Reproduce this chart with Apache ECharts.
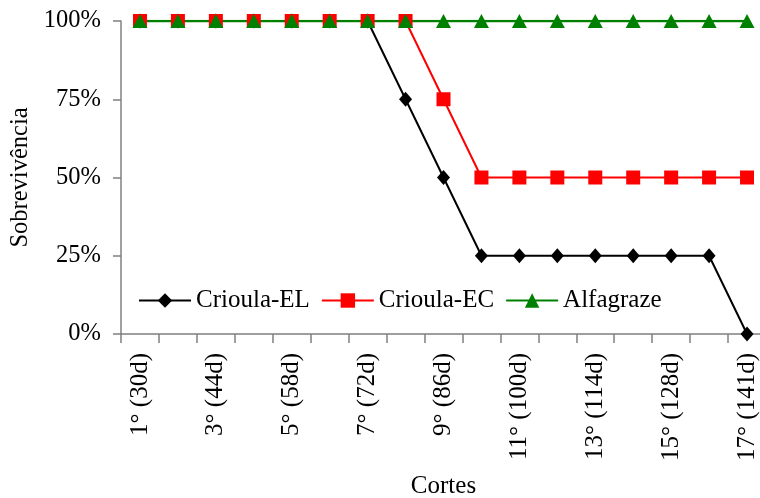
<!DOCTYPE html>
<html>
<head>
<meta charset="utf-8">
<script src="https://cdn.jsdelivr.net/npm/echarts@6/dist/echarts.min.js"></script>
<style>
html,body{margin:0;padding:0;background:#fff;}
#chart{width:760px;height:498px;}
</style>
</head>
<body>
<div id="chart"></div>
<script>
var categories = ['1° (30d)','2° (37d)','3° (44d)','4° (51d)','5° (58d)','6° (65d)','7° (72d)','8° (79d)','9° (86d)','10° (93d)','11° (100d)','12° (107d)','13° (114d)','14° (121d)','15° (128d)','16° (135d)','17° (141d)'];
var crioulaEL = [100,100,100,100,100,100,100,75,50,25,25,25,25,25,25,25,0];
var crioulaEC = [100,100,100,100,100,100,100,100,75,50,50,50,50,50,50,50,50];
var alfagraze = [100,100,100,100,100,100,100,100,100,100,100,100,100,100,100,100,100];
var yTicks = [0,25,50,75,100];

var font = '"Liberation Serif", "Times New Roman", serif';
var chart = echarts.init(document.getElementById('chart'), null, {renderer:'canvas'});
var axisGray = '#808080';
chart.setOption({
  animation:false,
  backgroundColor:'#fff',
  textStyle:{fontFamily:font},
  grid:{left:121,width:645,top:21,height:313,containLabel:false,outerBoundsMode:'none'},
  legend:{
    left:138, top:288, padding:0, itemWidth:52, itemHeight:18, itemGap:11,
    textStyle:{fontFamily:font,fontSize:25,color:'#000'},
    data:['Crioula-EL','Crioula-EC','Alfagraze']
  },
  xAxis:{
    type:'category', data:categories, boundaryGap:true,
    name:'Cortes', nameLocation:'middle', nameGap:140,
    nameTextStyle:{fontFamily:font,fontSize:25,color:'#000'},
    axisLine:{lineStyle:{color:axisGray,width:1.5}},
    axisTick:{show:true,length:9,interval:0,lineStyle:{color:axisGray,width:1.5}},
    axisLabel:{interval:1,rotate:90,margin:19,fontFamily:font,fontSize:25,color:'#000'},
    splitLine:{show:false}
  },
  yAxis:{
    type:'value', min:yTicks[0], max:yTicks[yTicks.length-1], interval:25,
    name:'Sobrevivência', nameLocation:'middle', nameGap:82,
    nameTextStyle:{fontFamily:font,fontSize:24.5,color:'#000'},
    axisLine:{show:true,lineStyle:{color:axisGray,width:1.5}},
    axisTick:{show:true,length:8,lineStyle:{color:axisGray,width:1.5}},
    axisLabel:{margin:20,fontFamily:font,fontSize:24.5,color:'#000',formatter:'{value}%'},
    splitLine:{show:false}
  },
  series:[
    {name:'Crioula-EL',type:'line',data:crioulaEL,symbol:'diamond',symbolSize:[13,15],
     lineStyle:{color:'#000',width:2},itemStyle:{color:'#000'}},
    {name:'Crioula-EC',type:'line',data:crioulaEC,symbol:'rect',symbolSize:14,
     lineStyle:{color:'#ff0000',width:2},itemStyle:{color:'#ff0000'}},
    {name:'Alfagraze',type:'line',data:alfagraze,symbol:'triangle',symbolSize:[15,14],
     lineStyle:{color:'#008000',width:2.5},itemStyle:{color:'#008000'}}
  ]
});
</script>
</body>
</html>
